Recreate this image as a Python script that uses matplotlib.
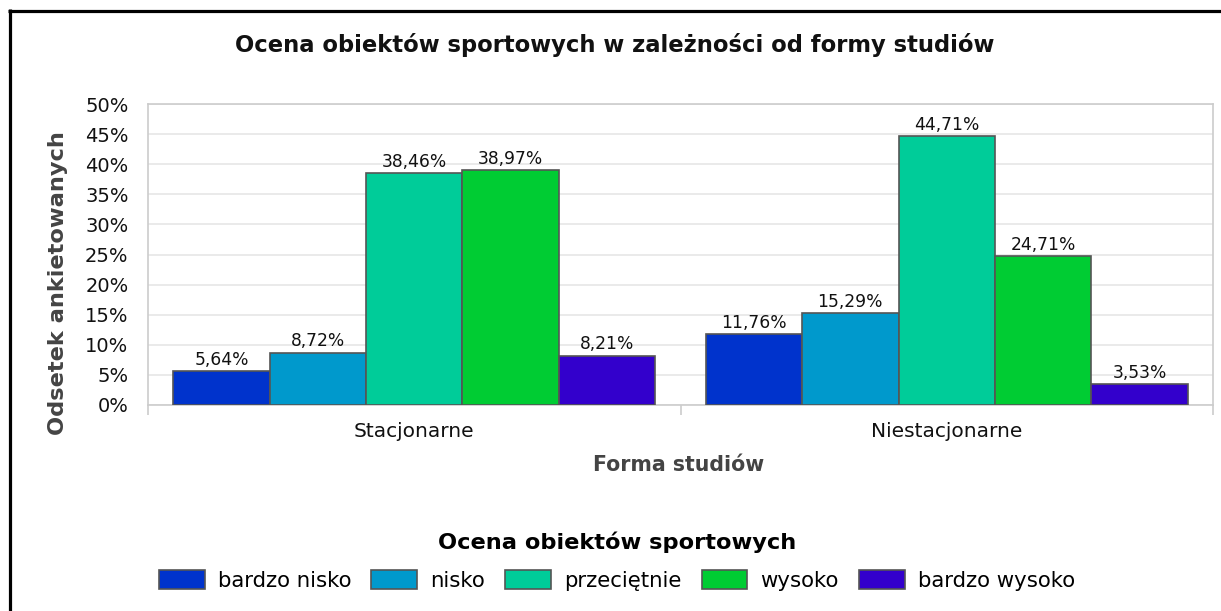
import matplotlib
matplotlib.use("Agg")
import matplotlib.pyplot as plt
import numpy as np
from matplotlib.lines import Line2D
from matplotlib.ticker import MultipleLocator, FuncFormatter

categories = ["Stacjonarne", "Niestacjonarne"]
series_names = ["bardzo nisko", "nisko", "przeciętnie", "wysoko", "bardzo wysoko"]
values = {
    "bardzo nisko": [5.64, 11.76],
    "nisko": [8.72, 15.29],
    "przeciętnie": [38.46, 44.71],
    "wysoko": [38.97, 24.71],
    "bardzo wysoko": [8.21, 3.53],
}
colors = ["#0033CC", "#0099CC", "#00CC99", "#00CC33", "#3300CC"]

title = "Ocena obiektów sportowych w zależności od formy studiów"
xlabel = "Forma studiów"
ylabel = "Odsetek ankietowanych"
legend_title = "Ocena obiektów sportowych"

W, H = 1221, 611
fig = plt.figure(figsize=(W / 100, H / 100), dpi=100)
fig.patch.set_facecolor("white")

ax = fig.add_axes([148 / W, 1 - 405 / H, (1213 - 148) / W, (405 - 104) / H])

x = np.arange(len(categories))
bw = 0.181
n = len(series_names)
handles = []
for i, name in enumerate(series_names):
    offs = (i - (n - 1) / 2) * bw
    bars = ax.bar(x + offs, values[name], width=bw, color=colors[i],
                  edgecolor="#555555", linewidth=1.2, zorder=3, label=name)
    handles.append(bars)
    for xi, v in zip(x + offs, values[name]):
        ax.text(xi, v + 0.35, f"{v:.2f}".replace(".", ",") + "%", ha="center",
                va="bottom", fontsize=12.3, color="#111111", zorder=4)

ax.set_xlim(-0.5, 1.5)
ax.set_ylim(0, 50)
ax.yaxis.set_major_locator(MultipleLocator(5))
ax.yaxis.set_major_formatter(FuncFormatter(lambda v, p: f"{int(v)}%"))
ax.grid(axis="y", color="#e6e6e6", linewidth=1.2, zorder=0)
ax.set_axisbelow(True)
for s in ax.spines.values():
    s.set_color("#cccccc")
    s.set_linewidth(1.2)

ax.set_xticks([-0.5, 0.5, 1.5], minor=False)
ax.set_xticklabels([])
ax.set_xticks(x, minor=True)
ax.set_xticklabels(categories, minor=True, fontsize=14.5, color="#111111")
ax.tick_params(axis="x", which="major", length=7, color="#cccccc", width=1.2)
ax.tick_params(axis="x", which="minor", length=0, pad=12)
ax.tick_params(axis="y", length=0, labelsize=14, pad=14, colors="#111111")

fig.text(615 / W, 1 - 45 / H, title, ha="center", va="center",
         fontsize=16.3, fontweight="bold", color="#111111")
fig.text(679 / W, 1 - 465 / H, xlabel, ha="center", va="center",
         fontsize=14.8, fontweight="bold", color="#444444")
fig.text(58 / W, 1 - 283 / H, ylabel, ha="center", va="center", rotation=90,
         fontsize=16.2, fontweight="bold", color="#444444")

fs = 15.3
leg = fig.legend(handles=handles, labels=series_names, loc="center",
                 bbox_to_anchor=(617 / W, 1 - 561 / H), ncol=5, frameon=False,
                 fontsize=fs, handlelength=2.15, handleheight=1.05,
                 handletextpad=0.62, columnspacing=0.95,
                 title=legend_title, title_fontproperties={"size": 16.2, "weight": "bold"})
leg._legend_box.sep = 12
for p in leg.get_patches():
    p.set_edgecolor("#555555")

# outer border (left and top)
fig.add_artist(Line2D([9.5 / W, 9.5 / W], [0, 1 - 9.2 / H], transform=fig.transFigure,
                      color="black", linewidth=2.3, solid_capstyle="butt"))
fig.add_artist(Line2D([8.2 / W, 1], [1 - 10.5 / H, 1 - 10.5 / H], transform=fig.transFigure,
                      color="black", linewidth=2.3, solid_capstyle="butt"))

fig.savefig("out.png", dpi=100, facecolor="white")
